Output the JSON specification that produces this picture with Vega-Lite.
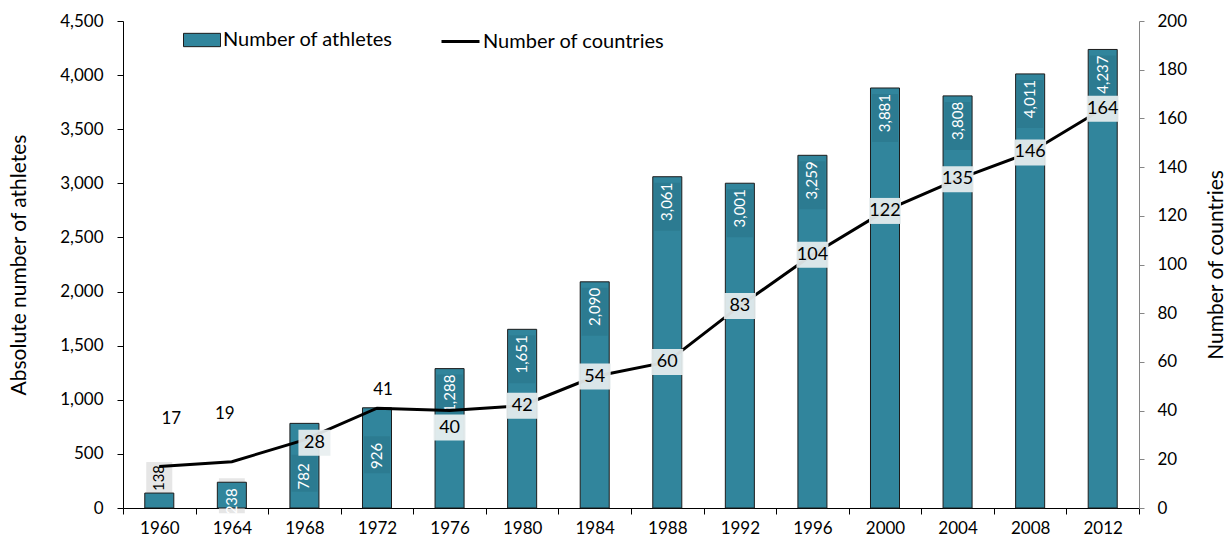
{
  "$schema": "https://vega.github.io/schema/vega-lite/v6.json",
  "width": 1016,
  "height": 487,
  "autosize": {"type": "none"},
  "padding": {"left": 123, "top": 21, "right": 90, "bottom": 32},
  "background": "white",
  "config": {
    "view": {"stroke": null},
    "font": "Lato",
    "axis": {"labelFont": "Lato", "titleFont": "Lato", "labelFontSize": 17, "titleFontSize": 21, "titleFontWeight": "normal", "labelColor": "black", "titleColor": "black", "grid": false},
    "legend": {"labelFont": "Lato", "labelFontSize": 20, "labelColor": "black", "labelLimit": 0}
  },
  "data": {
    "values": [
      {"year": "1960", "athletes": 138, "countries": 17},
      {"year": "1964", "athletes": 238, "countries": 19},
      {"year": "1968", "athletes": 782, "countries": 28},
      {"year": "1972", "athletes": 926, "countries": 41},
      {"year": "1976", "athletes": 1288, "countries": 40},
      {"year": "1980", "athletes": 1651, "countries": 42},
      {"year": "1984", "athletes": 2090, "countries": 54},
      {"year": "1988", "athletes": 3061, "countries": 60},
      {"year": "1992", "athletes": 3001, "countries": 83},
      {"year": "1996", "athletes": 3259, "countries": 104},
      {"year": "2000", "athletes": 3881, "countries": 122},
      {"year": "2004", "athletes": 3808, "countries": 135},
      {"year": "2008", "athletes": 4011, "countries": 146},
      {"year": "2012", "athletes": 4237, "countries": 164}
    ]
  },
  "encoding": {
    "x": {
      "field": "year", "type": "ordinal",
      "scale": {"paddingInner": 0, "paddingOuter": 0},
      "axis": {"title": null, "labelAngle": 0, "tickBand": "extent", "domainColor": "black", "tickColor": "black", "tickSize": 6, "labelPadding": 6}
    }
  },
  "layer": [
    {
      "encoding": {
        "y": {"field": "athletes", "type": "quantitative", "scale": {"domain": [0, 4500], "nice": false},
          "axis": {"title": "Absolute number of athletes", "values": [0,500,1000,1500,2000,2500,3000,3500,4000,4500], "format": ",.0f", "domainColor": "black", "tickColor": "black", "tickSize": 6, "labelPadding": 14, "titlePadding": 30}}
      },
      "layer": [
        {
          "transform": [{"filter": "datum.year == '1960'"}],
          "mark": {"type": "point", "shape": "M-0.84,-1L0.84,-1L0.84,1L-0.84,1Z", "size": 961, "filled": true, "color": "#E6E6E6", "opacity": 1, "strokeWidth": 0, "yOffset": -15.5}
        },
        {
          "transform": [{"filter": "datum.year == '1964'"}],
          "mark": {"type": "point", "shape": "M-0.74,-1L0.74,-1L0.74,1L-0.74,1Z", "size": 1225, "filled": true, "color": "#E6E6E6", "opacity": 1, "strokeWidth": 0, "yOffset": 13.5}
        },
        {
          "mark": {"type": "bar", "width": {"band": 0.4}, "stroke": "#1c1c1c", "strokeWidth": 1},
          "encoding": {
            "fill": {"datum": "Number of athletes", "type": "nominal", "scale": {"range": ["#31859C"]},
              "legend": {"title": null, "orient": "none", "legendX": 60, "legendY": 0, "symbolType": "M-1,-0.36L1,-0.36L1,0.36L-1,0.36Z", "symbolSize": 1369, "symbolStrokeColor": "#1c1c1c", "symbolStrokeWidth": 1, "symbolOpacity": 1, "labelOffset": 2}}
          }
        },
        {
          "transform": [{"filter": "datum.athletes >= 1000"}],
          "mark": {"type": "point", "shape": "M-0.54,-1L0.54,-1L0.54,1L-0.54,1Z", "size": 2304, "filled": true, "color": "#1F5F70", "opacity": 0.25, "strokeWidth": 0, "yOffset": 30}
        },
        {
          "transform": [{"filter": "datum.year == '1968'"}],
          "mark": {"type": "point", "shape": "M-0.7,-1L0.7,-1L0.7,1L-0.7,1Z", "size": 1369, "filled": true, "color": "#1F5F70", "opacity": 0.25, "strokeWidth": 0, "yOffset": 50}
        },
        {
          "transform": [{"filter": "datum.year == '1972'"}],
          "mark": {"type": "point", "shape": "M-0.7,-1L0.7,-1L0.7,1L-0.7,1Z", "size": 1369, "filled": true, "color": "#1F5F70", "opacity": 0.25, "strokeWidth": 0, "yOffset": 47}
        },
        {
          "transform": [{"filter": "datum.year != '1960' && datum.year != '1968' && datum.year != '1972'"}],
          "mark": {"type": "text", "angle": -90, "align": "right", "baseline": "middle", "dx": -6, "color": "white", "fontSize": 15},
          "encoding": {"text": {"field": "athletes", "type": "quantitative", "format": ",.0f"}}
        },
        {
          "transform": [{"filter": "datum.year == '1968'"}],
          "mark": {"type": "text", "angle": -90, "align": "right", "baseline": "middle", "dx": -40, "color": "white", "fontSize": 15},
          "encoding": {"text": {"field": "athletes", "type": "quantitative", "format": ",.0f"}}
        },
        {
          "transform": [{"filter": "datum.year == '1972'"}],
          "mark": {"type": "text", "angle": -90, "align": "right", "baseline": "middle", "dx": -35, "color": "white", "fontSize": 15},
          "encoding": {"text": {"field": "athletes", "type": "quantitative", "format": ",.0f"}}
        },
        {
          "transform": [{"filter": "datum.year == '1960'"}],
          "mark": {"type": "text", "angle": -90, "align": "left", "baseline": "middle", "dx": 2, "color": "black", "fontSize": 15},
          "encoding": {"text": {"field": "athletes", "type": "quantitative", "format": ",.0f"}}
        }
      ]
    },
    {
      "encoding": {
        "y": {"field": "countries", "type": "quantitative", "scale": {"domain": [0, 200], "nice": false},
          "axis": {"orient": "right", "title": "Number of countries", "titleAngle": -90, "titleBaseline": "top", "values": [0,20,40,60,80,100,120,140,160,180,200], "domainColor": "#868686", "tickColor": "#868686", "tickSize": 5, "labelPadding": 13, "titlePadding": 19}}
      },
      "layer": [
        {
          "mark": {"type": "line", "color": "black", "strokeWidth": 3},
          "encoding": {
            "stroke": {"datum": "Number of countries", "type": "nominal", "scale": {"range": ["black"]},
              "legend": {"title": null, "orient": "none", "legendX": 317, "legendY": 0, "symbolType": "stroke", "symbolSize": 1444, "symbolStrokeWidth": 3, "labelOffset": 2}}
          }
        },
        {
          "transform": [{"filter": "datum.countries >= 42"}],
          "mark": {"type": "point", "shape": "M-1.23,-1L1.23,-1L1.23,1L-1.23,1Z", "size": 676, "filled": true, "color": "#E8EFF0", "opacity": 0.92, "strokeWidth": 0}
        },
        {
          "transform": [{"filter": "datum.countries >= 42"}],
          "mark": {"type": "text", "baseline": "middle", "align": "center", "fontSize": 18, "color": "black"},
          "encoding": {"text": {"field": "countries", "type": "quantitative"}}
        },
        {
          "transform": [{"filter": "datum.year == '1976'"}],
          "mark": {"type": "point", "shape": "M-1.23,-1L1.23,-1L1.23,1L-1.23,1Z", "size": 676, "filled": true, "color": "#E8EFF0", "opacity": 0.95, "strokeWidth": 0, "yOffset": 17}
        },
        {
          "transform": [{"filter": "datum.year == '1976'"}],
          "mark": {"type": "text", "baseline": "middle", "align": "center", "fontSize": 18, "color": "black", "dy": 17},
          "encoding": {"text": {"field": "countries", "type": "quantitative"}}
        },
        {
          "transform": [{"filter": "datum.year == '1968'"}],
          "mark": {"type": "point", "shape": "M-1.23,-1L1.23,-1L1.23,1L-1.23,1Z", "size": 676, "filled": true, "color": "#E8EFF0", "opacity": 0.92, "strokeWidth": 0, "xOffset": 10, "yOffset": 3}
        },
        {
          "transform": [{"filter": "datum.year == '1968'"}],
          "mark": {"type": "text", "baseline": "middle", "align": "center", "fontSize": 18, "color": "black", "dx": 10, "dy": 3},
          "encoding": {"text": {"field": "countries", "type": "quantitative"}}
        },
        {
          "transform": [{"filter": "datum.year == '1960'"}],
          "mark": {"type": "text", "baseline": "middle", "align": "center", "fontSize": 17, "color": "black", "dx": 12, "dy": -48},
          "encoding": {"text": {"field": "countries", "type": "quantitative"}}
        },
        {
          "transform": [{"filter": "datum.year == '1964'"}],
          "mark": {"type": "text", "baseline": "middle", "align": "center", "fontSize": 17, "color": "black", "dx": -7, "dy": -48},
          "encoding": {"text": {"field": "countries", "type": "quantitative"}}
        },
        {
          "transform": [{"filter": "datum.year == '1972'"}],
          "mark": {"type": "text", "baseline": "middle", "align": "center", "fontSize": 17, "color": "black", "dx": 6, "dy": -18},
          "encoding": {"text": {"field": "countries", "type": "quantitative"}}
        }
      ]
    }
  ],
  "resolve": {"scale": {"y": "independent"}}
}
